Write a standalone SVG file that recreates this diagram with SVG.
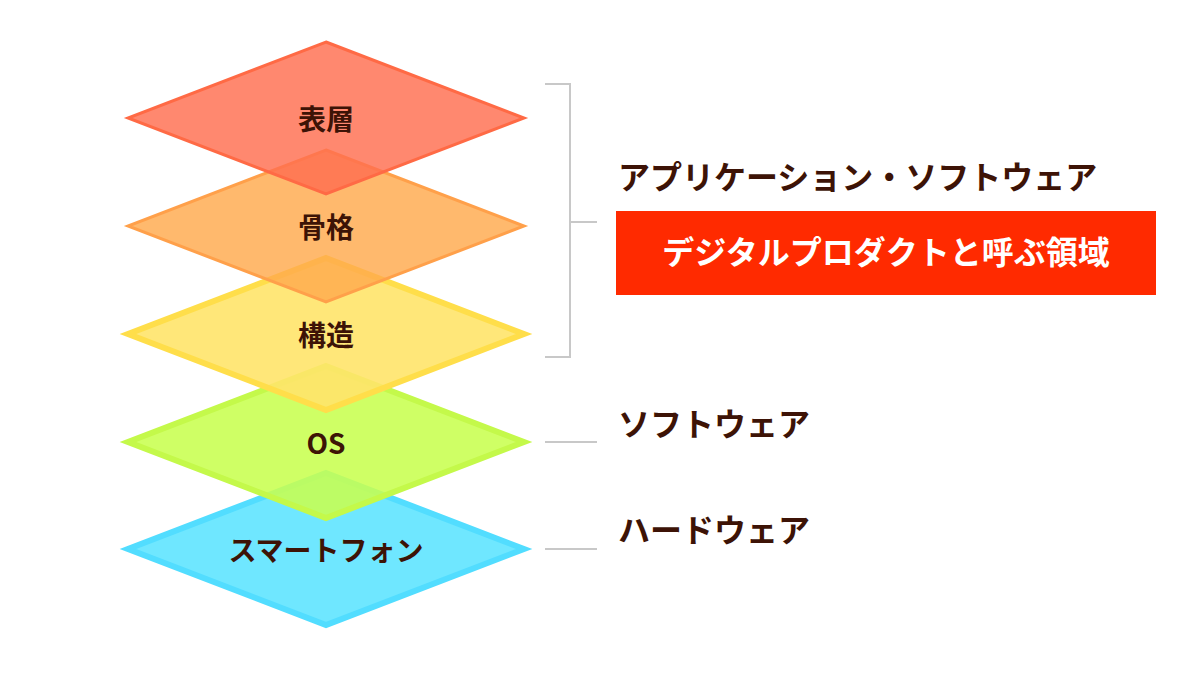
<svg xmlns="http://www.w3.org/2000/svg" width="1200" height="675" viewBox="0 0 1200 675">
<style>
.lbl{font-family:"Noto Sans CJK JP","Noto Sans",sans-serif;font-weight:bold;fill:#3d1306;text-anchor:middle}
.side{font-family:"Noto Sans CJK JP","Noto Sans",sans-serif;font-weight:bold;fill:#3d1306;font-size:32px}
.ln{stroke:#c8c8c8;stroke-width:2;fill:none}
</style>
<rect width="1200" height="675" fill="#fff"/>
<g id="smartphone"><polygon points="326,473 524,549 326,625 128,549" fill="#6fe7ff" stroke="#52ddff" stroke-width="6"/><text class="lbl" x="326" y="561" font-size="28">スマートフォン</text></g>
<g id="os"><polygon points="326,366 524,442 326,518 128,442" fill="#c8ff50" fill-opacity="0.88" stroke="#c4f94a" stroke-width="6"/><text class="lbl" x="326" y="454" font-size="28">OS</text></g>
<g id="structure"><polygon points="326,258 524,334 326,410 128,334" fill="#ffe46a" fill-opacity="0.9" stroke="#ffde4a" stroke-width="6"/><text class="lbl" x="326" y="346" font-size="28">構造</text></g>
<g id="skeleton"><polygon points="326,150 524,226 326,302 128,226" fill="#ffa94d" fill-opacity="0.82" stroke="#ffa04a" stroke-width="3"/><text class="lbl" x="326" y="238" font-size="28">骨格</text></g>
<g id="surface"><polygon points="326,42 524,118 326,194 128,118" fill="#ff6e4f" fill-opacity="0.82" stroke="#ff6a45" stroke-width="3"/><text class="lbl" x="326" y="130" font-size="28">表層</text></g>
<g id="connectors">
<polyline class="ln" points="545,84 570,84 570,357 545,357"/>
<line class="ln" x1="570" y1="222" x2="597" y2="222"/>
<line class="ln" x1="545" y1="442" x2="597" y2="442"/>
<line class="ln" x1="545" y1="549" x2="597" y2="549"/>
</g>
<g id="app"><text class="side" x="618" y="189">アプリケーション・ソフトウェア</text>
<rect x="616" y="211" width="540" height="84" fill="#ff2a00"/>
<text class="side" x="886" y="264" fill="#fff" style="fill:#fff" text-anchor="middle">デジタルプロダクトと呼ぶ領域</text></g>
<g id="software"><text class="side" x="618" y="436">ソフトウェア</text></g>
<g id="hardware"><text class="side" x="618" y="542">ハードウェア</text></g>
</svg>
